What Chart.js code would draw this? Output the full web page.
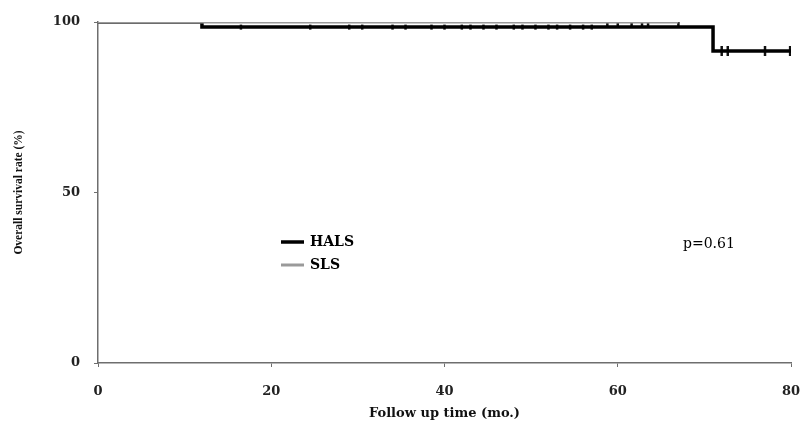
<!DOCTYPE html>
<html>
<head>
<meta charset="utf-8">
<script src="https://cdn.jsdelivr.net/npm/chart.js@4/dist/chart.umd.min.js"></script>
<style>
  html, body { margin: 0; padding: 0; background: #fff; }
  .chart-container { width: 801px; height: 421px; }
</style>
</head>
<body>
<div class="chart-container">
  <canvas id="myChart" width="801" height="421"></canvas>
</div>
<script>
// Kaplan-Meier steps (month, survival %)
const halsTimes = [0, 12, 71, 80];
const halsSurv = [100, 98.5, 91.5, 91.5];
const slsTimes = [0, 67];
const slsSurv = [100, 100];

// censoring marks
const halsCensorTimes = [16.5, 24.5, 29, 30.5, 34, 35.5, 38.5, 40, 42, 43, 44.5, 46, 48, 49, 50.5, 52, 53, 54.5, 56, 57];
const halsCensorSurv = [98.5, 98.5, 98.5, 98.5, 98.5, 98.5, 98.5, 98.5, 98.5, 98.5, 98.5, 98.5, 98.5, 98.5, 98.5, 98.5, 98.5, 98.5, 98.5, 98.5];
const halsLateCensorTimes = [72, 72.7, 77, 79.9];
const halsLateCensorSurv = [91.5, 91.5, 91.5, 91.5];
const slsCensorTimes = [58.8, 60, 61.6, 62.8, 63.5, 67];
const slsCensorSurv = [100, 100, 100, 100, 100, 100];

const xTicks = [0, 20, 40, 60, 80];
const yTicks = [0, 50, 100];

const legendNames = ['HALS', 'SLS'];
const legendColors = ['#000000', '#9a9a9a'];
const pValueText = 'p=0.61';

const toPoints = (xs, ys) => xs.map((x, i) => ({ x, y: ys[i] }));

const serif = '"Liberation Serif", "DejaVu Serif", serif';
const wideSerif = '"DejaVu Serif", "Liberation Serif", serif';

const annotations = {
  id: 'annotations',
  afterDraw(chart) {
    const { ctx } = chart;
    ctx.save();
    ctx.textBaseline = 'middle';
    legendNames.forEach((name, i) => {
      const y = 242 + i * 23;
      ctx.strokeStyle = legendColors[i];
      ctx.lineWidth = i === 0 ? 3.5 : 3;
      ctx.beginPath();
      ctx.moveTo(281, y);
      ctx.lineTo(304, y);
      ctx.stroke();
      ctx.fillStyle = '#000';
      ctx.font = 'bold 14px ' + wideSerif;
      ctx.fillText(name, 310, y);
    });
    ctx.font = '14px ' + wideSerif;
    ctx.fillText(pValueText, 683, 244);
    ctx.restore();
  },
};

const censorStyle = {
  showLine: false,
  pointStyle: 'line',
  rotation: 90,
  borderColor: '#111',
  borderWidth: 2.5,
};

new Chart(document.getElementById('myChart').getContext('2d'), {
  type: 'line',
  data: {
    datasets: [
      {
        label: 'SLS',
        data: toPoints(slsTimes, slsSurv),
        borderColor: '#9a9a9a',
        borderWidth: 3,
        stepped: true,
        pointRadius: 0,
      },
      {
        label: 'HALS',
        data: toPoints(halsTimes, halsSurv),
        borderColor: '#000000',
        borderWidth: 3.5,
        stepped: true,
        pointRadius: 0,
      },
      { label: 'SLS censored', data: toPoints(slsCensorTimes, slsCensorSurv), pointRadius: 4, ...censorStyle },
      { label: 'HALS censored', data: toPoints(halsCensorTimes, halsCensorSurv), pointRadius: 2.5, borderColor: '#333', ...censorStyle },
      { label: 'HALS censored late', data: toPoints(halsLateCensorTimes, halsLateCensorSurv), pointRadius: 5, ...censorStyle },
    ],
  },
  options: {
    responsive: false,
    animation: false,
    layout: { padding: { top: 22, right: 10, left: 0, bottom: 0 } },
    plugins: {
      legend: { display: false },
      tooltip: { enabled: false },
    },
    scales: {
      x: {
        type: 'linear',
        min: 0,
        max: 80,
        afterBuildTicks: (scale) => { scale.ticks = xTicks.map((v) => ({ value: v })); },
        afterFit: (scale) => { scale.height = 58; scale.paddingLeft = 0; scale.paddingRight = 0; },
        border: { color: '#6e6e6e', width: 1.5 },
        grid: { drawOnChartArea: false, tickLength: 4, color: '#6e6e6e' },
        ticks: { color: '#222', padding: 17, font: { family: wideSerif, size: 13, weight: 'bold' } },
        title: {
          display: true,
          text: 'Follow up time (mo.)',
          color: '#111',
          padding: { top: 0, bottom: 0 },
          font: { family: wideSerif, size: 13, weight: 'bold' },
        },
      },
      y: {
        min: 0,
        max: 100,
        afterBuildTicks: (scale) => { scale.ticks = yTicks.map((v) => ({ value: v })); },
        afterFit: (scale) => { scale.width = 98; },
        border: { color: '#6e6e6e', width: 1.5 },
        grid: { drawOnChartArea: false, tickLength: 4, color: '#6e6e6e' },
        ticks: { color: '#222', padding: 14, font: { family: wideSerif, size: 13, weight: 'bold' } },
        title: {
          display: true,
          text: 'Overall survival rate (%)',
          color: '#111',
          padding: { top: 12, bottom: 0 },
          font: { family: serif, size: 11.5, weight: 'bold' },
        },
      },
    },
  },
  plugins: [annotations],
});
</script>
</body>
</html>
